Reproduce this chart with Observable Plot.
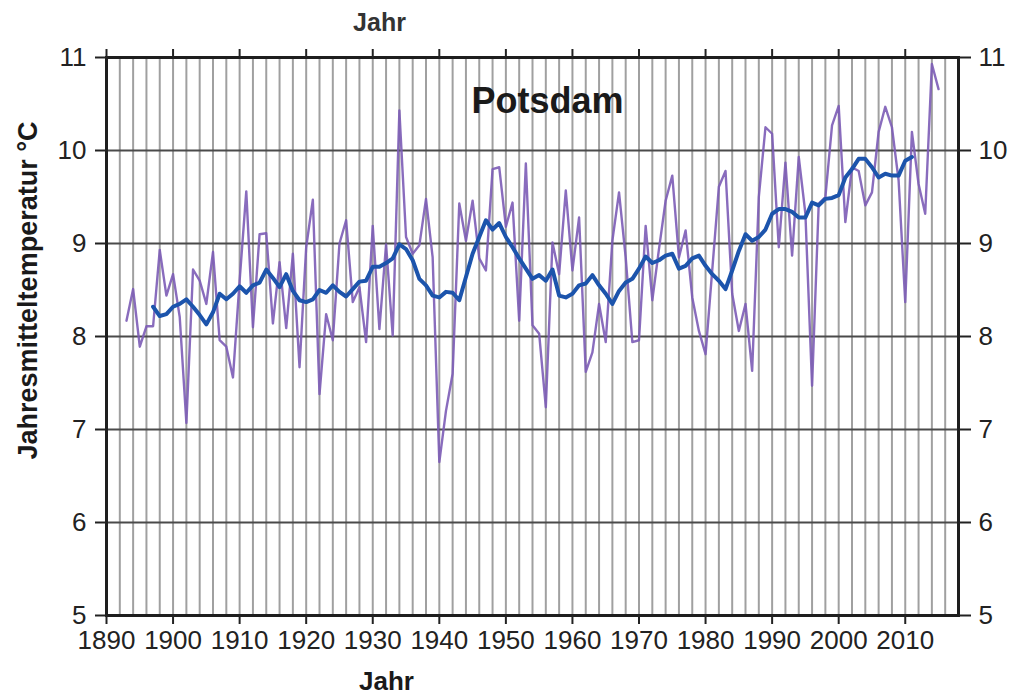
<!DOCTYPE html>
<html>
<head>
<meta charset="utf-8">
<script src="https://cdn.jsdelivr.net/npm/d3@7"></script>
<script src="https://cdn.jsdelivr.net/npm/@observablehq/plot@0.6"></script>
<style>
  html, body { margin: 0; padding: 0; background: #fff; }
  #chart svg { display: block; }
</style>
</head>
<body>
<div id="chart"></div>
<script>
// Annual mean temperature, Potsdam (°C), 1893–2015
const annualStart = 1893;
const annualTemps = [
  8.17, 8.51, 7.89, 8.11, 8.11, 8.93, 8.44,
  8.67, 8.21, 7.07, 8.72, 8.60, 8.35, 8.91, 7.96, 7.89, 7.56,
  8.60, 9.56, 8.10, 9.10, 9.11, 8.14, 8.80, 8.09, 8.89, 7.67,
  8.96, 9.47, 7.38, 8.24, 7.96, 9.00, 9.25, 8.37, 8.53, 7.94,
  9.19, 8.08, 8.99, 8.01, 10.43, 9.07, 8.89, 8.98, 9.48, 8.85,
  6.65, 7.20, 7.60, 9.43, 9.03, 9.46, 8.84, 8.71, 9.80, 9.82,
  9.18, 9.44, 8.17, 9.86, 8.12, 8.03, 7.24, 9.01, 8.67, 9.57,
  8.71, 9.28, 7.62, 7.83, 8.35, 7.94, 9.03, 9.55, 8.85, 7.94,
  7.96, 9.19, 8.39, 8.94, 9.46, 9.73, 8.85, 9.14, 8.42, 8.06,
  7.81, 8.71, 9.61, 9.78, 8.46, 8.06, 8.35, 7.63, 9.50, 10.25,
  10.18, 8.96, 9.87, 8.87, 9.93, 9.32, 7.47, 9.43, 9.50, 10.27,
  10.48, 9.23, 9.82, 9.78, 9.41, 9.55, 10.20, 10.47, 10.25, 9.68,
  8.37, 10.20, 9.64, 9.32, 10.93, 10.66
];
// Smoothed (running mean) curve, 1897–2011
const smoothStart = 1897;
const smoothTemps = [
  8.32, 8.22, 8.24, 8.32, 8.35, 8.40, 8.32, 8.23, 8.13, 8.26,
  8.46, 8.40, 8.46, 8.54, 8.47, 8.55, 8.58, 8.72, 8.63, 8.53,
  8.67, 8.49, 8.39, 8.37, 8.40, 8.50, 8.47, 8.55, 8.48, 8.43,
  8.51, 8.59, 8.60, 8.75, 8.75, 8.79, 8.84, 8.99, 8.94, 8.82,
  8.62, 8.55, 8.44, 8.42, 8.48, 8.47, 8.39, 8.64, 8.89, 9.07,
  9.25, 9.15, 9.22, 9.07, 8.96, 8.84, 8.73, 8.62, 8.66, 8.60,
  8.72, 8.44, 8.42, 8.46, 8.55, 8.57, 8.66, 8.55, 8.46, 8.35,
  8.49, 8.58, 8.62, 8.73, 8.86, 8.79, 8.82, 8.87, 8.89, 8.73,
  8.76, 8.84, 8.87, 8.76, 8.67, 8.60, 8.51, 8.71, 8.92, 9.10,
  9.03, 9.07, 9.15, 9.32, 9.37, 9.37, 9.34, 9.28, 9.28, 9.44,
  9.41, 9.48, 9.49, 9.52, 9.71, 9.80, 9.91, 9.91, 9.82, 9.71,
  9.75, 9.73, 9.73, 9.89, 9.93
];
const xTicks = [1890, 1900, 1910, 1920, 1930, 1940, 1950, 1960, 1970, 1980, 1990, 2000, 2010];
const yTicks = [5, 6, 7, 8, 9, 10, 11];
const gridYears = [1892,1894,1896,1898,1900,1902,1904,1906,1908,1910,1912,1914,1916,1918,1920,
  1922,1924,1926,1928,1930,1932,1934,1936,1938,1940,1942,1944,1946,1948,1950,1952,1954,1956,1958,
  1960,1962,1964,1966,1968,1970,1972,1974,1976,1978,1980,1982,1984,1986,1988,1990,1992,1994,1996,
  1998,2000,2002,2004,2006,2008,2010,2012,2014,2016];
const xDomain = [1890, 2018];
const yDomain = [5, 11];
const titleText = "Potsdam";
const xLabel = "Jahr";
const yLabel = "Jahresmitteltemperatur °C";

const annual = annualTemps.map((t, i) => ({year: annualStart + i, temp: t}));
const smooth = smoothTemps.map((t, i) => ({year: smoothStart + i, temp: t}));

const font = "'Liberation Sans', Arial, Helvetica, sans-serif";

const chart = Plot.plot({
  width: 1010,
  height: 697,
  marginTop: 57,
  marginBottom: 82,
  marginLeft: 106,
  marginRight: 52,
  x: {domain: xDomain},
  y: {domain: yDomain},
  style: {fontFamily: font, background: "#fff", color: "#222"},
  marks: [
    Plot.ruleX(gridYears, {stroke: "#a0a0a0", strokeWidth: 2}),
    Plot.ruleY(yTicks, {stroke: "#4a4a4a", strokeWidth: 1.8}),
    Plot.line(annual, {x: "year", y: "temp", stroke: "#7c5cb6", strokeWidth: 2.4, strokeOpacity: 0.9}),
    Plot.line(smooth, {x: "year", y: "temp", stroke: "#1c54ac", strokeWidth: 4}),
    Plot.frame({stroke: "#1e1e1e", strokeWidth: 3}),
    Plot.axisX({anchor: "bottom", ticks: xTicks, tickFormat: d => String(d), tickSize: 9, tickPadding: 6,
      fontSize: 26, stroke: "#222", strokeWidth: 2, label: null}),
    Plot.axisX({anchor: "top", ticks: xTicks, tickFormat: () => "", tickSize: 9,
      stroke: "#222", strokeWidth: 2, label: null}),
    Plot.axisY({anchor: "left", ticks: yTicks, tickFormat: d => String(d), tickSize: 11, tickPadding: 9,
      fontSize: 26, stroke: "#222", strokeWidth: 2, label: null}),
    Plot.axisY({anchor: "right", ticks: yTicks, tickFormat: d => String(d), tickSize: 12, tickPadding: 8,
      fontSize: 26, stroke: "#222", strokeWidth: 2, label: null}),
    Plot.text([titleText], {frameAnchor: "top-left", dx: 441, dy: 44, text: d => d,
      fontSize: 36, fontWeight: "bold", fill: "#1a1a1a", textAnchor: "middle", lineAnchor: "middle"}),
    Plot.text([xLabel], {frameAnchor: "bottom-left", dx: 280, dy: 66, text: d => d,
      fontSize: 26, fontWeight: "bold", fill: "#1a1a1a", textAnchor: "middle", lineAnchor: "middle"}),
    Plot.text([xLabel], {frameAnchor: "top-left", dx: 273, dy: -35, text: d => d,
      fontSize: 25, fontWeight: "bold", fill: "#333", textAnchor: "middle", lineAnchor: "middle"}),
    Plot.text([yLabel], {frameAnchor: "left", dx: -78, dy: -46, text: d => d, rotate: -90,
      fontSize: 27, fontWeight: "bold", fill: "#1a1a1a", textAnchor: "middle", lineAnchor: "middle"})
  ]
});
document.getElementById("chart").appendChild(chart);
</script>
</body>
</html>
